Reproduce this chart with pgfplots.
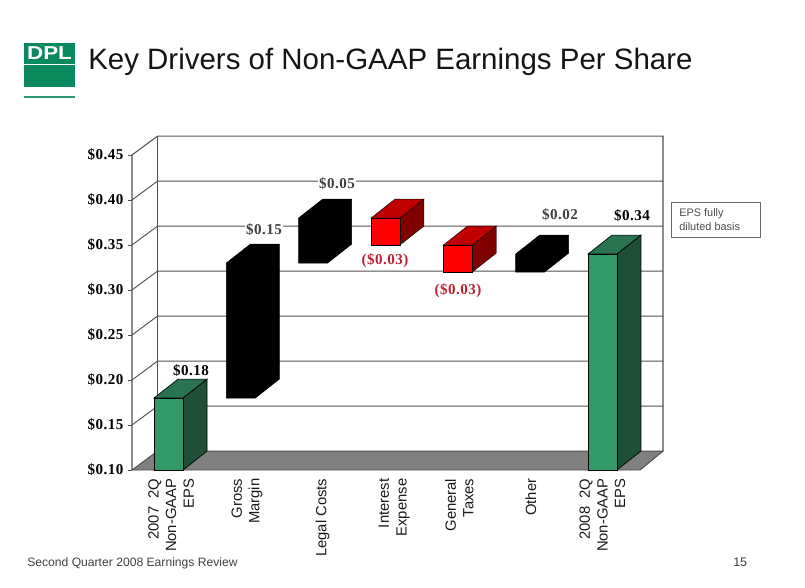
\documentclass[border=0pt]{standalone}
\usepackage{pgfplots}
\pgfplotsset{compat=1.18}
\usepackage{fontspec}
\setmainfont{Liberation Sans}
\newfontfamily\lb[LetterSpace=3]{Liberation Serif}
\definecolor{grn}{HTML}{339966}
\definecolor{grnS}{HTML}{1F4F37}
\definecolor{grnT}{HTML}{2A7350}
\definecolor{rd}{HTML}{FF0000}
\definecolor{rdS}{HTML}{800000}
\definecolor{rdT}{HTML}{C00000}
\definecolor{lbl}{HTML}{C02030}
\definecolor{logo}{HTML}{0A8A5C}
\definecolor{logoL}{HTML}{2A9A75}
\definecolor{wall}{HTML}{505050}
\begin{document}
\begin{tikzpicture}[x=0.75pt,y=-0.75pt]
\path[use as bounding box] (0,0) rectangle (805,587);
% logo, title
\fill[logo] (24,43) rectangle (75,87);
\fill[white] (24,63.5) rectangle (75,65);
\fill[logoL] (24,96.3) rectangle (75,98);
\node[white,font=\bfseries\fontsize{14pt}{15pt}\selectfont,anchor=center,inner sep=0pt,xscale=1.2] at (49.5,53.5) {DPL};
\node[anchor=base west,inner sep=0pt,text=black!92,font=\fontsize{22.1pt}{24pt}\selectfont] at (88,69) {Key Drivers of Non-GAAP Earnings Per Share};
% footer
\node[anchor=base west,inner sep=0pt,text=black!75,font=\fontsize{9.1pt}{11pt}\selectfont] at (27,566) {Second Quarter 2008 Earnings Review};
\node[anchor=base west,inner sep=0pt,text=black!75,font=\fontsize{9.4pt}{11pt}\selectfont] at (733,566) {15};
% note box
\draw[black!60,line width=0.7pt] (671,202) rectangle (760,237);
\node[anchor=base west,inner sep=0pt,align=left,text=black!70,font=\fontsize{8.2pt}{10.2pt}\selectfont] at (679,216) {EPS fully};
\node[anchor=base west,inner sep=0pt,align=left,text=black!70,font=\fontsize{8.2pt}{10.2pt}\selectfont] at (679,230) {diluted basis};
\begin{axis}[
  at={(99pt,-352.5pt)},anchor=south west,
  scale only axis,width=398.25pt,height=250.5pt,
  xmin=-0.505,xmax=6.837,ymin=0.10,ymax=0.4711,
  clip=false,
  axis line style={draw=none},
  ytick={0.10,0.15,0.20,0.25,0.30,0.35,0.40,0.45},
  yticklabels={\$0.10,\$0.15,\$0.20,\$0.25,\$0.30,\$0.35,\$0.40,\$0.45},
  ytick pos=left,tick align=outside,major tick length=3pt,
  ytick style={wall,line width=0.6pt},
  xtick={0.035,1.085,2.13,3.12,4.02,5.01,6.0},
  xticklabels={2007\ \ 2Q\\Non-GAAP\\EPS,Gross\\Margin,Legal Costs,Interest\\Expense,General\\Taxes,Other,2008\ \ 2Q\\Non-GAAP\\EPS},
  xtick pos=bottom,
  xtick style={draw=none},
  xticklabel style={rotate=90,anchor=east,align=right,font=\fontsize{11.1pt}{13.2pt}\selectfont,text=black!90},
  yticklabel style={font=\lb\bfseries\fontsize{11.3pt}{12pt}\selectfont,text=black},
  every axis plot/.append style={line join=miter},
]
% floor
\addplot[fill=black!50,draw=black!70,line width=0.7pt] coordinates {(-0.505,0.10)(6.52,0.10)(6.837,0.121)(-0.152,0.121)} --cycle;
% walls
\addplot[wall,line width=0.8pt] coordinates {(-0.505,0.10)(-0.505,0.45)(-0.152,0.471)(6.837,0.471)(6.837,0.121)};
\addplot[wall,line width=0.8pt] coordinates {(-0.152,0.121)(-0.152,0.471)};
% grid
\addplot[wall,line width=0.7pt] coordinates {(-0.505,0.15)(-0.152,0.171)(6.837,0.171)};
\addplot[wall,line width=0.7pt] coordinates {(-0.505,0.20)(-0.152,0.221)(6.837,0.221)};
\addplot[wall,line width=0.7pt] coordinates {(-0.505,0.25)(-0.152,0.271)(6.837,0.271)};
\addplot[wall,line width=0.7pt] coordinates {(-0.505,0.30)(-0.152,0.321)(6.837,0.321)};
\addplot[wall,line width=0.7pt] coordinates {(-0.505,0.35)(-0.152,0.371)(6.837,0.371)};
\addplot[wall,line width=0.7pt] coordinates {(-0.505,0.40)(-0.152,0.421)(6.837,0.421)};
% bar 0: 0.10-0.18
\addplot[fill=grnS,draw=black,line width=0.5pt] coordinates {(0.2,0.10)(0.532,0.121)(0.532,0.201)(0.2,0.18)} --cycle;
\addplot[fill=grnT,draw=black,line width=0.5pt] coordinates {(-0.2,0.18)(0.2,0.18)(0.532,0.201)(0.132,0.201)} --cycle;
\addplot[fill=grn,draw=black,line width=0.5pt] coordinates {(-0.2,0.10)(0.2,0.10)(0.2,0.18)(-0.2,0.18)} --cycle;
% bar 1: 0.18-0.33
\addplot[fill=black,draw=black] coordinates {(0.8,0.18)(1.2,0.18)(1.532,0.201)(1.532,0.351)(1.132,0.351)(0.8,0.33)} --cycle;
% bar 2: 0.33-0.38
\addplot[fill=black,draw=black] coordinates {(1.8,0.33)(2.2,0.33)(2.532,0.351)(2.532,0.401)(2.132,0.401)(1.8,0.38)} --cycle;
% bar 3: 0.38-0.35
\addplot[fill=rdS,draw=black,line width=0.3pt] coordinates {(3.2,0.35)(3.532,0.371)(3.532,0.401)(3.2,0.38)} --cycle;
\addplot[fill=rdT,draw=black,line width=0.3pt] coordinates {(2.8,0.38)(3.2,0.38)(3.532,0.401)(3.132,0.401)} --cycle;
\addplot[fill=rd,draw=black,line width=0.3pt] coordinates {(2.8,0.35)(3.2,0.35)(3.2,0.38)(2.8,0.38)} --cycle;
% bar 4: 0.35-0.32
\addplot[fill=rdS,draw=black,line width=0.3pt] coordinates {(4.2,0.32)(4.532,0.341)(4.532,0.371)(4.2,0.35)} --cycle;
\addplot[fill=rdT,draw=black,line width=0.3pt] coordinates {(3.8,0.35)(4.2,0.35)(4.532,0.371)(4.132,0.371)} --cycle;
\addplot[fill=rd,draw=black,line width=0.3pt] coordinates {(3.8,0.32)(4.2,0.32)(4.2,0.35)(3.8,0.35)} --cycle;
% bar 5: 0.32-0.34
\addplot[fill=black,draw=black] coordinates {(4.8,0.32)(5.2,0.32)(5.532,0.341)(5.532,0.361)(5.132,0.361)(4.8,0.34)} --cycle;
% bar 6: 0.10-0.34
\addplot[fill=grnS,draw=black,line width=0.5pt] coordinates {(6.2,0.10)(6.532,0.121)(6.532,0.361)(6.2,0.34)} --cycle;
\addplot[fill=grnT,draw=black,line width=0.5pt] coordinates {(5.8,0.34)(6.2,0.34)(6.532,0.361)(6.132,0.361)} --cycle;
\addplot[fill=grn,draw=black,line width=0.5pt] coordinates {(5.8,0.10)(6.2,0.10)(6.2,0.34)(5.8,0.34)} --cycle;
% value labels
\tikzset{vl/.style={font=\lb\bfseries\fontsize{11.3pt}{12pt}\selectfont,inner sep=1pt}}
\node[vl,text=black] at (axis cs:0.311,0.2101) {\$0.18};
\node[vl,text=black!75,fill=white] at (axis cs:1.320,0.3667) {\$0.15};
\node[vl,text=black!75,fill=white] at (axis cs:2.330,0.4178) {\$0.05};
\node[vl,text=lbl] at (axis cs:2.993,0.3322) {(\$0.03)};
\node[vl,text=lbl] at (axis cs:4.003,0.2989) {(\$0.03)};
\node[vl,text=black!75] at (axis cs:5.412,0.3833) {\$0.02};
\node[vl,text=black] at (axis cs:6.408,0.3822) {\$0.34};
\end{axis}
\end{tikzpicture}
\end{document}
